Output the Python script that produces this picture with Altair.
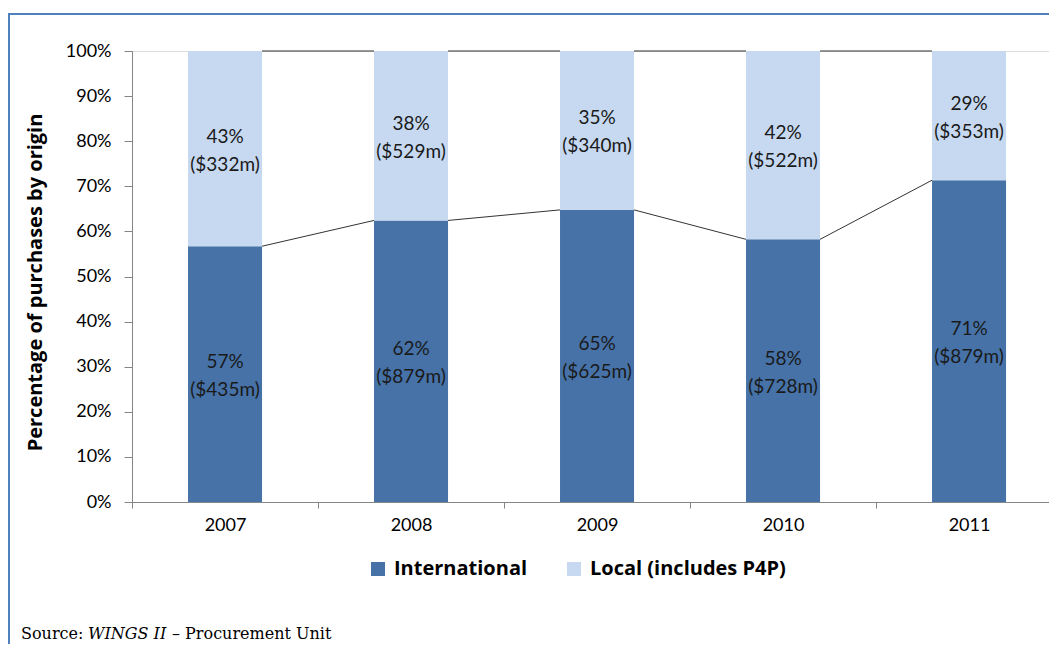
import altair as alt
import pandas as pd

years = ["2007", "2008", "2009", "2010", "2011"]
intl_usd = [435, 879, 625, 728, 879]
local_usd = [332, 529, 340, 522, 353]
intl_pct = [57, 62, 65, 58, 71]
local_pct = [43, 38, 35, 42, 29]
series = ["International", "Local (includes P4P)"]
colors = ["#4672A8", "#C6D9F1"]

FONT = "Lato"
BOLD = "Open Sans"

rows = []
share = []
for i, yr in enumerate(years):
    tot = intl_usd[i] + local_usd[i]
    s = intl_usd[i] / tot
    share.append(s)
    rows.append(dict(year=yr, series=series[0], usd=intl_usd[i], order=0, mid=s / 2,
                     label=f"{intl_pct[i]}%\n(${intl_usd[i]}m)"))
    rows.append(dict(year=yr, series=series[1], usd=local_usd[i], order=1, mid=s + (1 - s) / 2,
                     label=f"{local_pct[i]}%\n(${local_usd[i]}m)"))
df = pd.DataFrame(rows)

seg = []
for i in range(len(years) - 1):
    seg.append(dict(year=years[i], next=years[i + 1], y0=share[i], y1=share[i + 1]))
    seg.append(dict(year=years[i], next=years[i + 1], y0=1.0, y1=1.0))
seg_df = pd.DataFrame(seg)

xscale = alt.Scale(domain=years, paddingInner=0.602, paddingOuter=0.266, align=0.566)
yscale = alt.Scale(domain=[0, 1])

xaxis = alt.Axis(title=None, labelFont=FONT, labelFontSize=18, labelColor="#000000",
                 tickSize=6, tickOffset=-93, labelOffset=93, labelPadding=8,
                 domainColor="#868686", tickColor="#868686", labelAngle=0)
yaxis = alt.Axis(title="Percentage of purchases by origin", titleFont=BOLD, titleFontSize=20,
                 titleFontWeight="bold", titleColor="#000000", titleAngle=270,
                 titleBaseline="alphabetic", titleX=-91, titleY=231,
                 values=[i / 10 for i in range(11)], format=".0%", labelFont=FONT,
                 labelFontSize=18, labelColor="#000000", tickSize=8, labelPadding=13,
                 domainColor="#868686", tickColor="#868686", grid=False)

bars = alt.Chart(df).mark_bar().encode(
    x=alt.X("year:N", scale=xscale, axis=xaxis),
    y=alt.Y("usd:Q", stack="normalize", scale=yscale, axis=yaxis),
    color=alt.Color("series:N", scale=alt.Scale(domain=series, range=colors),
                    legend=alt.Legend(title=None, orient="none", legendX=236, legendY=508,
                                      direction="horizontal", symbolType="square",
                                      symbolSize=196, symbolStrokeWidth=0, labelFont=BOLD,
                                      labelFontSize=20, labelFontWeight="bold",
                                      labelColor="#000000", labelOffset=6, labelLimit=400,
                                      columnPadding=36, padding=0)),
    order=alt.Order("order:Q"),
)

labels = alt.Chart(df).mark_text(font=FONT, fontSize=19, lineBreak="\n", lineHeight=28,
                                 baseline="middle", align="center", dy=-12,
                                 color="#1a1a1a").encode(
    x=alt.X("year:N", scale=xscale),
    y=alt.Y("mid:Q", scale=yscale),
    text="label:N",
)

lines = alt.Chart(seg_df).mark_rule(color="#333333", strokeWidth=1).encode(
    x=alt.X("year:N", scale=xscale, bandPosition=1),
    x2=alt.X2("next", bandPosition=0),
    y=alt.Y("y0:Q", scale=yscale),
    y2=alt.Y2("y1"),
)

one = pd.DataFrame({"a": [0]})
border_left = alt.Chart(one).mark_rule(color="#4F81BD", strokeWidth=2).encode(
    x=alt.value(-123), y=alt.value(-37), y2=alt.value(640))
border_top = alt.Chart(one).mark_rule(color="#4F81BD", strokeWidth=2).encode(
    x=alt.value(-124), x2=alt.value(960), y=alt.value(-37))

SERIF = "DejaVu Serif"
src1 = alt.Chart(one).mark_text(text="Source:", align="left", baseline="alphabetic",
                                font=SERIF, fontSize=16, color="#000000").encode(
    x=alt.value(-111), y=alt.value(588))
src2 = alt.Chart(one).mark_text(text="WINGS II", align="left", baseline="alphabetic",
                                font=SERIF, fontSize=16, fontStyle="italic",
                                color="#000000").encode(
    x=alt.value(-44), y=alt.value(588))
src3 = alt.Chart(one).mark_text(text="– Procurement Unit", align="left", baseline="alphabetic",
                                font=SERIF, fontSize=16, color="#000000").encode(
    x=alt.value(40), y=alt.value(588))

chart = alt.layer(bars, lines, labels, border_left, border_top, src1, src2, src3).properties(
    width=917, height=451,
    autosize=alt.AutoSizeParams(type="none"),
    padding={"left": 124, "top": 43, "right": 0, "bottom": 142},
).configure_view(stroke=None).configure(background="#ffffff")

chart.save("out.html", embed_options={"renderer": "svg", "actions": False})
